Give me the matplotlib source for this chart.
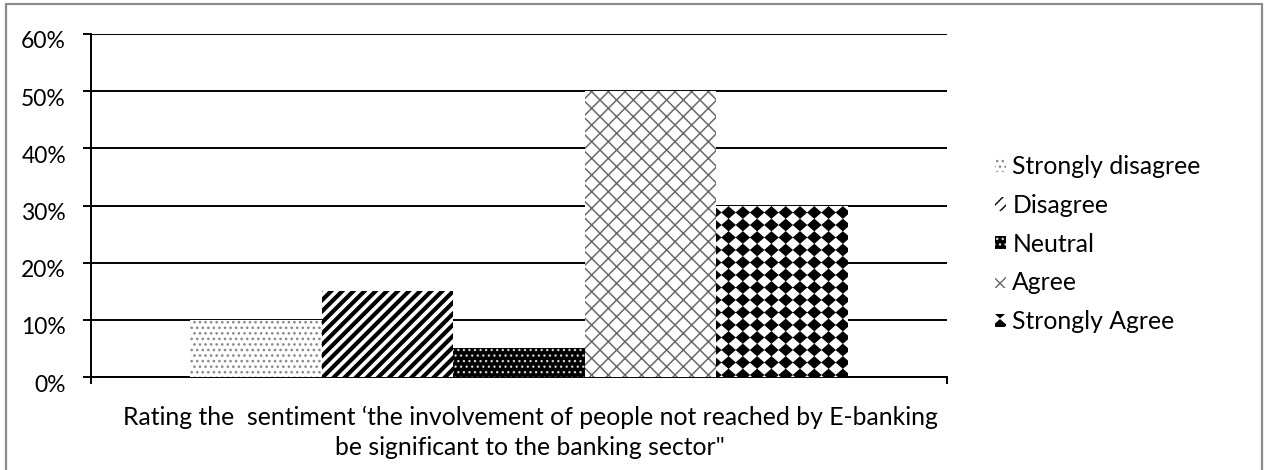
import matplotlib
matplotlib.use("Agg")
import numpy as np
import matplotlib.pyplot as plt
import matplotlib.hatch as mhatch
import matplotlib.transforms as mtransforms
from matplotlib.patches import Rectangle
from matplotlib.path import Path
from matplotlib.ticker import PercentFormatter

series = ["Strongly disagree", "Disagree", "Neutral", "Agree", "Strongly Agree"]
values = [10, 15, 5, 50, 30]
category = ["Rating the  sentiment \u2018the involvement of people not reached by E-banking\nbe significant to the banking sector\""]
yticks = [0, 10, 20, 30, 40, 50, 60]


# Aligned filled-diamond hatch (replaces the '*' star hatch)
class AlignedDiamonds(mhatch.HatchPatternBase):
    def __init__(self, hatch, density):
        c = hatch.count('*')
        self.nx = 7 * c
        self.ny = 8 * c
        self.num_vertices = (self.nx + 1) * (self.ny + 1) * 5 if c else 0

    def set_vertices_and_codes(self, vertices, codes):
        hx = 0.40 / self.nx
        hy = 0.40 / self.ny
        base = np.array([[0, -hy], [hx, 0], [0, hy], [-hx, 0], [0, -hy]])
        k = 0
        for i in range(self.nx + 1):
            for j in range(self.ny + 1):
                vertices[k:k + 5] = base + [i / self.nx, j / self.ny]
                codes[k] = Path.MOVETO
                codes[k + 1:k + 4] = Path.LINETO
                codes[k + 4] = Path.CLOSEPOLY
                k += 5


mhatch._hatch_types = [t for t in mhatch._hatch_types if t is not mhatch.Stars] + [AlignedDiamonds]

styles = [
    dict(facecolor="white", edgecolor="#8a8a8a", hatch="...", hlw=1.1),
    dict(facecolor="white", edgecolor="black", hatch="///", hlw=3.0),
    dict(facecolor="black", edgecolor="#d8d8d8", hatch="...", hlw=0.9),
    dict(facecolor="white", edgecolor="#6a6a6a", hatch="xx", hlw=1.1),
    dict(facecolor="white", edgecolor="black", hatch="*", hlw=1.5),
]

plt.rcParams['font.family'] = ['Lato', 'DejaVu Sans']
FS = 17.8
W, H = 1265, 470
fig = plt.figure(figsize=(W / 100, H / 100), dpi=100)

# outer frame
fig.patches.append(Rectangle((6 / W, -0.05), (1262 - 6) / W, (H - 4) / H + 0.05,
                             transform=fig.transFigure, fill=False,
                             edgecolor="#8c8c8c", linewidth=1.6))

ax = fig.add_axes([91 / W, (H - 377) / H, (947 - 91) / W, (377 - 34) / H])

n = len(series)
bw = 0.7686 / n
handles = []
for i, (name, v, st) in enumerate(zip(series, values, styles)):
    plt.rcParams['hatch.linewidth'] = st['hlw']
    x = -0.3843 + bw * (i + 0.5)
    bars = ax.bar([x], [v], width=bw, facecolor=st['facecolor'], edgecolor=st['edgecolor'],
                  hatch=st['hatch'], linewidth=0, label=name, zorder=3)
    for b in bars:
        try:
            b.set_hatch_linewidth(st['hlw'])
        except AttributeError:
            pass
    handles.append(bars)

ax.set_xlim(-0.5, 0.5)
ax.set_ylim(0, 60)
ax.set_yticks(yticks)
ax.yaxis.set_major_formatter(PercentFormatter(decimals=0))
ax.grid(axis='y', color='black', linewidth=1.4, zorder=1)
ax.set_axisbelow(True)
for s in ['top', 'right']:
    ax.spines[s].set_visible(False)
ax.spines['left'].set_linewidth(1.4)
ax.spines['bottom'].set_linewidth(1.4)
ax.tick_params(axis='y', length=6, width=1.4, labelsize=16.5, pad=12, colors='black')
yoff = mtransforms.ScaledTranslation(0, -6 / 100, fig.dpi_scale_trans)
for lab in ax.get_yticklabels():
    lab.set_transform(lab.get_transform() + yoff)

ax.set_xticks([0])
ax.set_xticklabels(category, fontsize=FS, linespacing=1.35)
ax.tick_params(axis='x', which='major', length=0, pad=21)
ax.set_xticks([-0.5, 0.5], minor=True)
ax.tick_params(axis='x', which='minor', length=5, width=1.4, direction='out')
offset = mtransforms.ScaledTranslation(11 / 100, 0, fig.dpi_scale_trans)
for lab in ax.get_xticklabels():
    lab.set_transform(lab.get_transform() + offset)

plt.rcParams['hatch.linewidth'] = 1.0
leg = fig.legend(handles=handles, labels=series, loc='center left',
                 bbox_to_anchor=(995 / W, (H - 244) / H), frameon=False,
                 fontsize=FS, handlelength=0.45, handleheight=0.45,
                 handletextpad=0.25, labelspacing=0.64, borderaxespad=0, borderpad=0)

fig.savefig("out.png", dpi=100)
